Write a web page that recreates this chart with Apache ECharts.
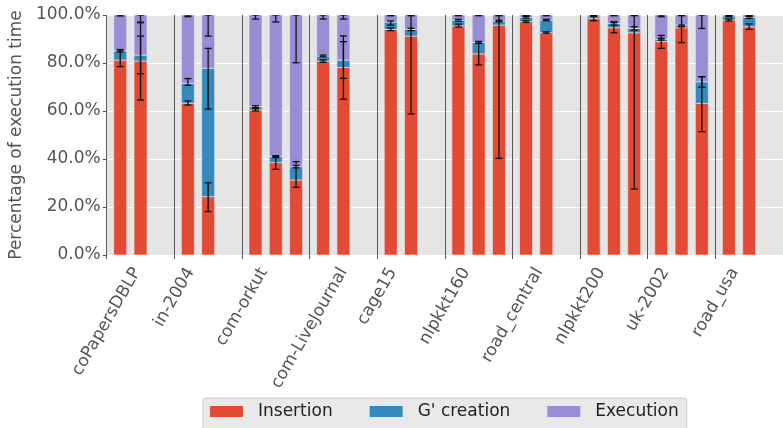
<!DOCTYPE html>
<html><head><meta charset="utf-8">
<script src="https://cdn.jsdelivr.net/npm/echarts@6/dist/echarts.min.js"></script>
<style>html,body{margin:0;padding:0;background:#fff}#c{width:783px;height:428px}</style>
</head><body><div id="c"></div>
<script>
// ---- data ----
const categories = ['coPapersDBLP','in-2004','com-orkut','com-LiveJournal','cage15','nlpkkt160','road_central','nlpkkt200','uk-2002','road_usa'];
const barsPerGroup = [2,2,3,2,2,3,2,3,3,2];
const seriesNames = ['Insertion', "G' creation", 'Execution'];
const insertion = [81.2,80.8, 63.2,24.3, 60.4,38.5,31.2, 80.8,78.1, 94.0,91.2, 95.4,83.8,95.8, 97.2,92.6, 98.6,94.7,92.6, 88.9,94.7,63.2, 97.9,95.1];
const gCreation = [3.9,2.5, 8.3,53.5, 1.4,2.5,5.6, 2.1,3.1, 3.1,2.8, 2.5,4.8,1.7, 1.8,5.3, 1.0,1.8,1.8, 1.0,1.1,9.0, 1.7,3.9];
const execution = [14.9,16.7, 28.5,22.2, 38.2,59.0,63.2, 17.1,18.8, 2.9,6.0, 2.1,11.4,2.5, 1.0,2.1, 0.4,3.5,5.6, 10.1,4.2,27.8, 0.4,1.0];
// error bar ranges [low, high] (cumulative %) at the top of each segment
const insErr = [[78.5,85.4],[64.6,97.0],[62.5,64.2],[18.1,30.1],[60.0,61.0],[35.7,41.0],[28.2,38.9],[80.3,81.3],[64.9,91.3],[93.5,94.6],[58.8,100],[95.0,96.2],[79.2,88.3],[40.3,100],[96.9,97.6],[92.4,93.0],[97.6,99.6],[92.6,96.8],[27.5,100],[86.1,91.5],[88.5,100],[51.4,74.3],[97.5,98.3],[94.0,96.3]];
const gcErr = [[84.6,85.6],[75.5,91.2],[70.7,73.5],[60.8,86.1],[61.4,62.2],[40.6,41.4],[36.3,37.3],[82.6,83.3],[73.6,88.9],[95.8,97.5],[93.5,94.5],[97.4,98.2],[88.2,89.0],[97.2,97.8],[98.7,99.4],[97.6,98.2],[99.4,99.8],[95.7,97.2],[93.7,95.1],[89.6,90.3],[95.1,95.8],[69.9,74.3],[99.3,99.9],[98.6,99.4]];
const exErr = [[99.6,100],[96.8,100],[99.3,100],[91.2,100],[98.3,100],[97.1,100],[80.1,100],[98.3,100],[98.3,100],[99.7,100],[99.7,100],[99.7,100],[99.7,100],[99.7,100],[99.7,100],[99.7,100],[99.7,100],[99.7,100],[99.7,100],[99.3,100],[99.7,100],[94.4,100],[99.7,100],[99.7,100]];
const yTicks = [0,20,40,60,80,100];
const colors = ['#E24A33','#348ABD','#988ED5'];

// ---- build ----
const FONT = 'DejaVu Sans';
const xPos = [];
barsPerGroup.forEach((n,k)=>{ for(let j=0;j<n;j++) xPos.push(k + 0.2 + 0.3*j); });

const ctx = document.createElement('canvas').getContext('2d');
ctx.font = '17px "DejaVu Sans"';
const theta = 60*Math.PI/180;
const rich = {};
categories.forEach((c,i)=>{
  const L = ctx.measureText(c).width, h = 17;
  const H = L*Math.sin(theta) + h*Math.cos(theta);
  const dy = H/2;
  rich['c'+i] = {fontSize:17, fontFamily:FONT, color:'#555', padding:[2*dy*Math.cos(theta), 2*dy*Math.sin(theta), 0, 0]};
});

const errData = [];
xPos.forEach((x,i)=>{
  errData.push([x, insErr[i][0], insErr[i][1]]);
  errData.push([x, gcErr[i][0], gcErr[i][1]]);
  errData.push([x, exErr[i][0], exErr[i][1]]);
});

// stacked segments [x, bottom, top]
const vals = [insertion, gCreation, execution];
const segData = vals.map(()=>[]);
xPos.forEach((x,i)=>{
  let base = 0;
  vals.forEach((arr,s)=>{ segData[s].push([x, base, base + arr[i]]); base += arr[i]; });
});

const BAR_W = 13;
const chart = echarts.init(document.getElementById('c'), null, {renderer:'canvas'});
chart.setOption({
  animation:false,
  textStyle:{fontFamily:FONT},
  grid:{left:106, top:15, width:679, height:240, show:true, backgroundColor:'#E5E5E5', borderWidth:0, containLabel:false},
  legend:{
    data:seriesNames, left:203, top:398, icon:'rect', itemWidth:33, itemHeight:11, itemGap:37,
    textStyle:{fontSize:17, fontFamily:FONT, color:'#222', padding:[0,0,0,10]},
    backgroundColor:'#E9E9E9', borderColor:'#CCCCCC', borderWidth:1, borderRadius:3,
    padding:[5,8,12,7]
  },
  xAxis:{
    type:'value', min:0, max:10, interval:1,
    axisLine:{show:false},
    axisTick:{show:true, length:4, lineStyle:{color:'#555'}},
    splitLine:{show:true, lineStyle:{color:'#5a5a5a', width:1}},
    axisLabel:{
      rotate:60, align:'center', verticalAlign:'middle', margin:10,
      fontSize:17, fontFamily:FONT, color:'#555',
      showMaxLabel:false,
      formatter:(v)=>{ const i=Math.round(v); return (i>=0 && i<categories.length) ? '{c'+i+'|'+categories[i]+'}' : ''; },
      rich:rich
    }
  },
  yAxis:{
    type:'value', min:0, max:100, interval:20,
    name:'Percentage of execution time', nameLocation:'middle', nameGap:70,
    nameTextStyle:{fontSize:17, fontFamily:FONT, color:'#555'},
    axisLine:{show:false},
    axisTick:{show:true, length:4, lineStyle:{color:'#555'}},
    splitLine:{show:true, lineStyle:{color:'#FFFFFF', width:1}},
    axisLabel:{fontSize:17, fontFamily:FONT, color:'#555', margin:6,
      formatter:(v)=> yTicks.indexOf(v)>=0 ? v.toFixed(1)+'%' : ''}
  },
  series: seriesNames.map((name,s)=>({
    name, type:'custom', z:2, clip:true,
    itemStyle:{color:colors[s]},
    encode:{x:0, y:[1,2]},
    data: segData[s],
    renderItem:(params, api)=>{
      const x = api.value(0);
      const a = api.coord([x, api.value(1)]), b = api.coord([x, api.value(2)]);
      return {type:'rect',
        shape:{x:a[0]-BAR_W/2, y:b[1], width:BAR_W, height:a[1]-b[1]},
        style:{fill:colors[s], stroke:'#EEEEEE', lineWidth:0.6}};
    }
  })).concat([{
    type:'custom', z:10, clip:true,
    encode:{x:0, y:[1,2]},
    data: errData,
    renderItem:(params, api)=>{
      const x = api.value(0), lo = api.value(1), hi = api.value(2);
      const a = api.coord([x, lo]), b = api.coord([x, hi]);
      const cw = 3.5, st = {stroke:'#111', lineWidth:1.3};
      return {type:'group', children:[
        {type:'line', shape:{x1:a[0],y1:a[1],x2:b[0],y2:b[1]}, style:st},
        {type:'line', shape:{x1:a[0]-cw,y1:a[1],x2:a[0]+cw,y2:a[1]}, style:st},
        {type:'line', shape:{x1:b[0]-cw,y1:b[1],x2:b[0]+cw,y2:b[1]}, style:st}
      ]};
    }
  }])
});
</script>
</body></html>
